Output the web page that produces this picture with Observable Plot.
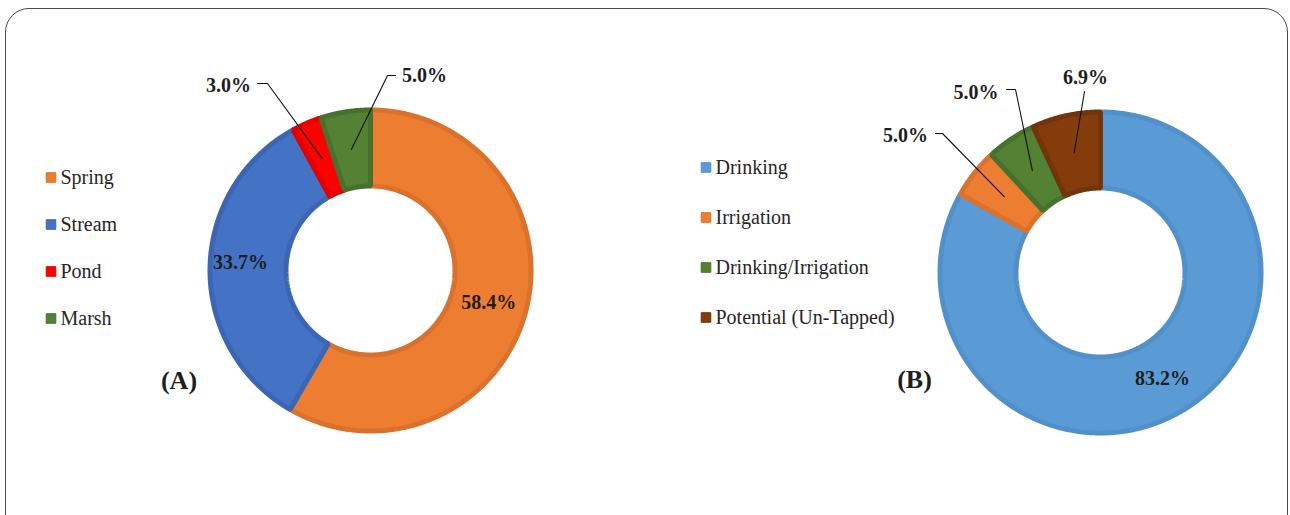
<!DOCTYPE html>
<html><head><meta charset="utf-8">
<script src="https://cdn.jsdelivr.net/npm/d3@7"></script>
<script src="https://cdn.jsdelivr.net/npm/@observablehq/plot@0.6"></script>
<style>
html,body{margin:0;padding:0;background:#fff;overflow:hidden}
#wrap{position:relative;width:1290px;height:515px;overflow:hidden}
#frame{position:absolute;left:5px;top:8px;width:1283px;height:530px;border:1.6px solid #4a4a4a;border-radius:24px;box-sizing:border-box}
#chart{position:absolute;left:0;top:0}
</style></head><body><div id="wrap"><div id="frame"></div><div id="chart"></div></div>
<script>
// ---- data ----
const sourceCategories = ["Spring", "Stream", "Pond", "Marsh"];
const sourceValues = [58.4, 33.7, 3.0, 5.0];
const useCategories = ["Drinking", "Irrigation", "Drinking/Irrigation", "Potential (Un-Tapped)"];
const useValues = [83.2, 5.0, 5.0, 6.9];
const panelLabels = ["(A)", "(B)"];

// ---- styles ----
const sourceColors = ["#ED7D31", "#4472C4", "#FF0000", "#548235"];
const sourceEdges  = ["#D9722D", "#3C66B3", "#E30000", "#47712C"];
const useColors = ["#5B9BD5", "#ED7D31", "#548235", "#843C0C"];
const useEdges  = ["#5290CA", "#D9722D", "#47712C", "#72340A"];

// ---- layout (pixels) ----
const W = 1290, H = 515, R = 163, RIN = 82, EDGE = 5;
const ORX = 370, ORY = 270; // origin of unit coordinates (centre of donut A)
const ux = px => (px - ORX) / R;
const uy = py => (ORY - py) / R;

const donuts = [
  {cats: sourceCategories, vals: sourceValues, colors: sourceColors, edges: sourceEdges,
   cx: 370, cy: 270, legendX: 50.5, legendY: 177, legendStep: 47, panel: [178.5, 380], panelLabel: panelLabels[0],
   labels: [
     {mode: "centroid"},
     {mode: "at", pos: [240, 262]},
     {mode: "out", pos: [228, 85], leader: [[257, 83], [267, 83]]},
     {mode: "out", pos: [424, 75], leader: [[395, 75], [387, 75]]}
   ]},
  {cats: useCategories, vals: useValues, colors: useColors, edges: useEdges,
   cx: 1100, cy: 272, legendX: 705.5, legendY: 167, legendStep: 50, panel: [914, 379], panelLabel: panelLabels[1],
   labels: [
     {mode: "centroid"},
     {mode: "out", pos: [905, 135], leader: [[935, 133], [942, 133]]},
     {mode: "out", pos: [975.5, 92], leader: [[1006, 89], [1015, 89]]},
     {mode: "out", pos: [1085, 77], leader: [[1084, 91]]}
   ]}
];

const sliceRows = [], labelRows = [], leaderRows = [], legendRows = [], panelRows = [];
const step = Math.PI / 360;
donuts.forEach((d, di) => {
  const cux = ux(d.cx), cuy = uy(d.cy);
  const arcs = d3.pie().sort(null).value(v => v)(d.vals);
  const ro = (R - EDGE / 2) / R, ri = (RIN + EDGE / 2) / R, rm = (R + RIN) / 2 / R;
  arcs.forEach((a, i) => {
    const id = di + "-" + i;
    const n = Math.max(2, Math.ceil((a.endAngle - a.startAngle) / step));
    const pts = [];
    for (let k = 0; k <= n; k++) {
      const t = a.startAngle + (a.endAngle - a.startAngle) * k / n;
      pts.push([cux + ro * Math.sin(t), cuy + ro * Math.cos(t)]);
    }
    for (let k = n; k >= 0; k--) {
      const t = a.startAngle + (a.endAngle - a.startAngle) * k / n;
      pts.push([cux + ri * Math.sin(t), cuy + ri * Math.cos(t)]);
    }
    pts.forEach(p => sliceRows.push({id, x: p[0], y: p[1], fill: d.colors[i], stroke: d.edges[i]}));

    const mid = (a.startAngle + a.endAngle) / 2;
    const c = [cux + rm * Math.sin(mid), cuy + rm * Math.cos(mid)];
    const txt = d.vals[i].toFixed(1) + "%";
    const L = d.labels[i];
    if (L.mode === "centroid") labelRows.push({x: c[0], y: c[1], text: txt});
    else {
      labelRows.push({x: ux(L.pos[0]), y: uy(L.pos[1]), text: txt});
      if (L.leader) {
        L.leader.forEach(p => leaderRows.push({id, x: ux(p[0]), y: uy(p[1])}));
        leaderRows.push({id, x: c[0], y: c[1]});
      }
    }
    legendRows.push({x: ux(d.legendX), y: uy(d.legendY + i * d.legendStep), text: d.cats[i], fill: d.colors[i], stroke: d.edges[i]});
  });
  panelRows.push({x: ux(d.panel[0]), y: uy(d.panel[1]), text: d.panelLabel});
});

const font = "'Liberation Serif', 'Times New Roman', serif";
const chart = Plot.plot({
  width: W, height: H,
  marginTop: 0, marginRight: 0, marginBottom: 0, marginLeft: 0,
  x: {domain: [ux(0), ux(W)], range: [0, W], axis: null},
  y: {domain: [uy(H), uy(0)], range: [H, 0], axis: null},
  color: {type: "identity"},
  style: {background: "transparent", overflow: "visible"},
  marks: [
    Plot.line(sliceRows, {x: "x", y: "y", z: "id", fill: "fill", stroke: "stroke", strokeWidth: EDGE, curve: "linear-closed", strokeLinejoin: "miter"}),
    Plot.line(leaderRows, {x: "x", y: "y", z: "id", stroke: "#111", strokeWidth: 1.1}),
    Plot.text(labelRows, {x: "x", y: "y", text: "text", fontSize: 20, fontWeight: "bold", fontFamily: font, fill: "#1e1e1e"}),
    Plot.dot(legendRows, {x: "x", y: "y", symbol: "square", r: 5.4, fill: "fill", stroke: "stroke", strokeWidth: 1}),
    Plot.text(legendRows, {x: "x", y: "y", text: "text", dx: 9.5, textAnchor: "start", fontSize: 20, fontFamily: font, fill: "#262626"}),
    Plot.text(panelRows, {x: "x", y: "y", text: "text", fontSize: 26, fontWeight: "bold", fontFamily: font, fill: "#1e1e1e"})
  ]
});
document.getElementById("chart").appendChild(chart);
</script>
</body></html>
